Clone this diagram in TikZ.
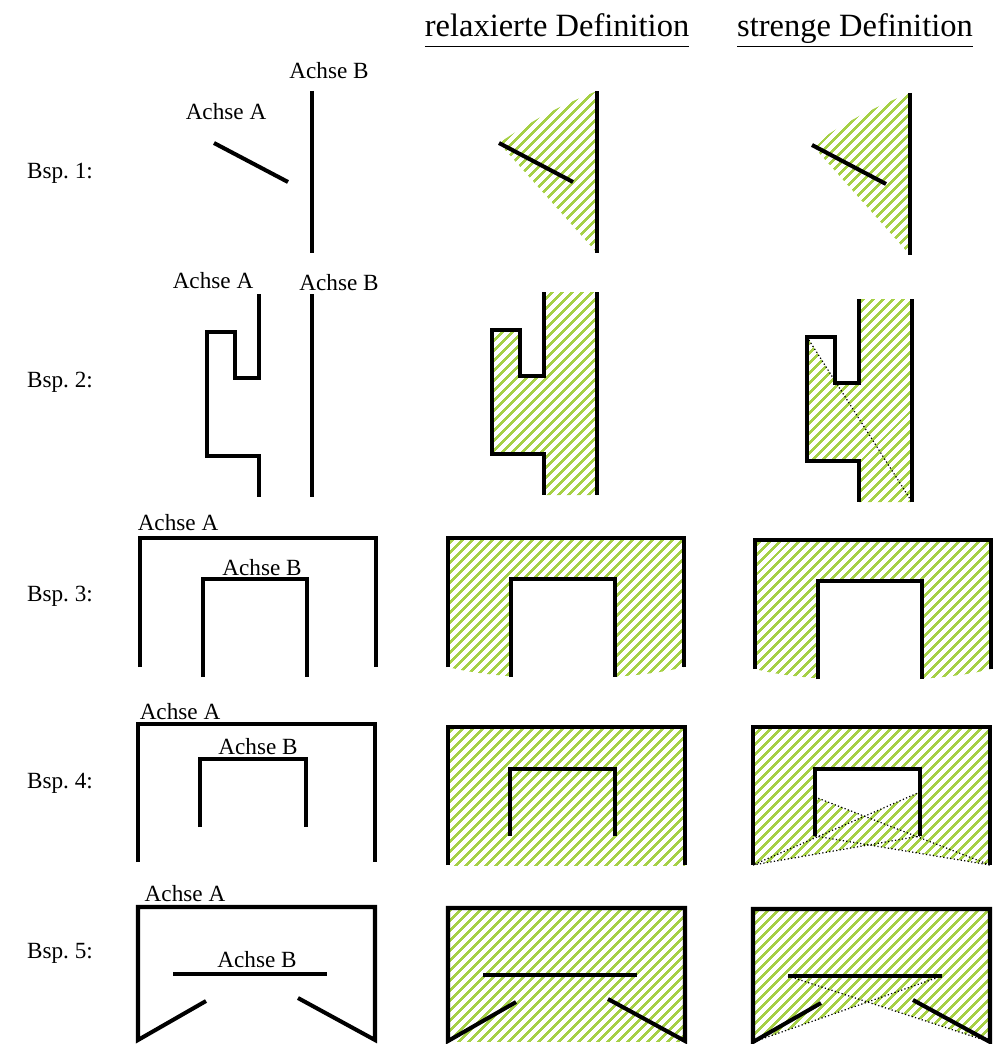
\documentclass[tikz,border=0pt]{standalone}
\usepackage{fontspec}
\setmainfont{Liberation Serif}
\usetikzlibrary{patterns.meta}
\definecolor{hatchgreen}{RGB}{166,208,70}
\frenchspacing

\begin{document}
\begin{tikzpicture}[x=0.02cm,y=-0.02cm,
  achse/.style={line width=2.3pt},
  sicht/.style={line width=0.7pt,dash pattern=on 0.7pt off 1.3pt},
  schraffur/.style={pattern={Lines[angle=45,distance=4pt,line width=1.5pt]},pattern color=hatchgreen},
  label/.style={font=\fontsize{13.2}{15}\selectfont,inner sep=0pt},
  bsp/.style={font=\fontsize{13.2}{15}\selectfont,inner sep=0pt,anchor=base},
  kopf/.style={font=\fontsize{18.5}{22}\selectfont,inner sep=0pt,anchor=base}]

\useasboundingbox (0,0) rectangle (992,1044);

% column heads and row labels
\node[kopf] (relaxiert) at (557,37) {\underline{relaxierte Definition\vphantom{g}}};
\node[kopf] (streng) at (855,37) {\underline{strenge Definition}};
\foreach \n/\y in {1/179,2/387,3/601,4/788,5/958}
  \node[bsp] (bsp\n) at (60,\y) {Bsp. \n:};

% Bsp. 1
\node[label] (a1) at (226,112) {Achse A};
\node[label] (b1) at (329,71) {Achse B};
\foreach \dx/\dy in {285/0,598/2}{
  \fill[schraffur,shift={(\dx,\dy)}] (214,143) -- (312,253) -- (312,91) to[bend right=6] (214,143) -- cycle;
}
\foreach \dx/\dy in {0/0,285/0,598/2}{
  \begin{scope}[shift={(\dx,\dy)}]
    \draw[achse] (214,143) -- (288,182);
    \draw[achse] (312,91) -- (312,253);
  \end{scope}
}

% Bsp. 2
\node[label] (a2) at (213,281) {Achse A};
\node[label] (b2) at (339,283) {Achse B};
\fill[schraffur,shift={(285,-2)}] (259,294) -- (312,294) -- (312,497) -- (259,497) -- (259,456)
  -- (207,456) -- (207,332) -- (235,332) -- (235,378) -- (259,378) -- cycle;
\begin{scope}[shift={(600,5)}]
  \fill[schraffur] (259,294) -- (312,294) -- (312,497) -- (259,497) -- (259,456)
    -- (207,456) -- (207,332) -- (235,376) -- (235,378) -- (259,378) -- cycle;
  \coordinate (ecke2) at (207,332);
  \coordinate (fuss2) at (312,497);
  \draw[sicht] (ecke2) -- (fuss2);
\end{scope}
\foreach \dx/\dy in {0/0,285/-2,600/5}{
  \begin{scope}[shift={(\dx,\dy)}]
    \draw[achse] (259,294) -- (259,378) -- (235,378) -- (235,332) -- (207,332)
      -- (207,456) -- (259,456) -- (259,497);
    \draw[achse] (312,294) -- (312,497);
  \end{scope}
}

% Bsp. 3
\node[label] (a3) at (178,523) {Achse A};
\node[label] (b3) at (262,568) {Achse B};
\foreach \dx/\dy in {308/0,615/2}{
  \begin{scope}[shift={(\dx,\dy)}]
    \fill[schraffur] (140,538) -- (376,538) -- (376,667) .. controls (320,682) and (196,682) .. (140,667) -- cycle;
    \fill[white] (203,579) rectangle (307,690);
  \end{scope}
}
\foreach \dx/\dy in {0/0,308/0,615/2}{
  \begin{scope}[shift={(\dx,\dy)}]
    \draw[achse] (140,667) -- (140,538) -- (376,538) -- (376,667);
    \draw[achse] (203,677) -- (203,579) -- (307,579) -- (307,677);
  \end{scope}
}

% Bsp. 4
\node[label] (a4) at (180,712) {Achse A};
\node[label] (b4) at (258,747) {Achse B};
\draw[achse] (138,862) -- (138,724) -- (375,724) -- (375,862);
\draw[achse] (200,827) -- (200,759) -- (306,759) -- (306,827);
\fill[schraffur,shift={(310,3)}] (138,724) rectangle (375,862);
\begin{scope}[shift={(615,3)}]
  \fill[schraffur] (138,724) rectangle (375,862);
  \coordinate (ol4) at (138,862);
  \coordinate (or4) at (375,862);
  \coordinate (il4) at (200,794);
  \coordinate (ir4) at (305,789);
  \coordinate (ilb4) at (200,833);
  \coordinate (irb4) at (305,833);
  \coordinate (x4o) at (intersection of il4--or4 and ir4--ol4);
  \coordinate (x4u) at (intersection of ol4--irb4 and ilb4--or4);
  \fill[white] (200,766) -- (305,766) -- (ir4) -- (x4o) -- (il4) -- cycle;
  \fill[white] (ol4) -- (x4u) -- (or4) -- (378,866) -- (135,866) -- cycle;
  \foreach \i/\j in {il4/or4,ir4/ol4,ol4/irb4,ilb4/or4}
    \draw[sicht] (\i) -- (\j);
\end{scope}
\foreach \dx/\dy in {310/3,615/3}{
  \begin{scope}[shift={(\dx,\dy)}]
    \draw[achse] (138,862) -- (138,724) -- (375,724) -- (375,862);
    \draw[achse] (200,833) -- (200,766) -- (305,766) -- (305,833);
  \end{scope}
}

% Bsp. 5
\node[label] (a5) at (185,894) {Achse A};
\node[label] (b5) at (257,960) {Achse B};
\fill[schraffur,shift={(310,1)}] (138,907) rectangle (375,1040);
\begin{scope}[shift={(615,2)}]
  \fill[schraffur] (138,907) rectangle (375,1040);
  \coordinate (ol5) at (138,1040);
  \coordinate (or5) at (375,1040);
  \coordinate (bl5) at (173,974);
  \coordinate (br5) at (327,974);
  \coordinate (x5) at (intersection of bl5--or5 and br5--ol5);
  \fill[white] (ol5) -- (x5) -- (or5) -- (378,1044) -- (135,1044) -- cycle;
  \foreach \i/\j in {bl5/or5,br5/ol5}
    \draw[sicht] (\i) -- (\j);
\end{scope}
\foreach \dx/\dy in {0/0,310/1,615/2}{
  \begin{scope}[shift={(\dx,\dy)}]
    \draw[achse] (206,1001) -- (138,1040) -- (138,907) -- (375,907) -- (375,1040) -- (298,998);
    \draw[achse] (173,974) -- (327,974);
  \end{scope}
}

\end{tikzpicture}
\end{document}
